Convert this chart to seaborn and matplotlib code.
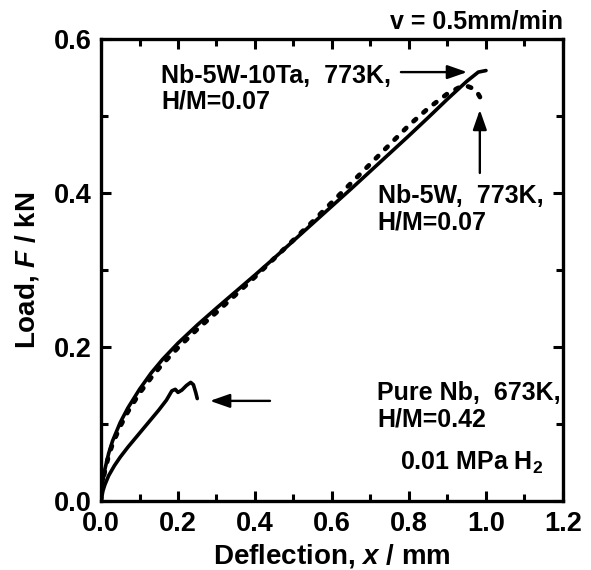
import matplotlib
matplotlib.use("Agg")
import matplotlib.pyplot as plt
import seaborn as sns
import pandas as pd
import numpy as np

# ---- data ----
ta_x = [0, 0.005, 0.01, 0.02, 0.03, 0.05, 0.07, 0.10, 0.13, 0.16, 0.20, 0.25, 0.30, 0.35,
        0.40, 0.45, 0.50, 0.55, 0.60, 0.65, 0.70, 0.75, 0.80, 0.85, 0.90, 0.95, 0.98, 1.00]
ta_y = [0, 0.026, 0.041, 0.062, 0.078, 0.102, 0.121, 0.145, 0.166, 0.184, 0.205, 0.2285,
        0.2505, 0.272, 0.2935, 0.3155, 0.338, 0.3605, 0.383, 0.4055, 0.4285, 0.4515,
        0.4745, 0.498, 0.522, 0.545, 0.557, 0.559]

w_x = [0, 0.005, 0.01, 0.02, 0.03, 0.05, 0.07, 0.10, 0.13, 0.16, 0.20, 0.25, 0.30, 0.35,
       0.40, 0.45, 0.50, 0.55, 0.60, 0.65, 0.70, 0.75, 0.80, 0.85, 0.90, 0.93, 0.95,
       0.965, 0.977, 0.985]
w_y = [0, 0.025, 0.039, 0.059, 0.074, 0.097, 0.116, 0.140, 0.160, 0.178, 0.199, 0.223,
       0.245, 0.268, 0.291, 0.315, 0.339, 0.363, 0.388, 0.413, 0.438, 0.463, 0.488,
       0.510, 0.529, 0.537, 0.539, 0.536, 0.531, 0.524]

nb_x = [0, 0.005, 0.01, 0.02, 0.035, 0.05, 0.07, 0.09, 0.11, 0.13, 0.15, 0.17, 0.184,
        0.193, 0.200, 0.210, 0.222, 0.233, 0.240, 0.246, 0.250]
nb_y = [0, 0.013, 0.021, 0.033, 0.046, 0.057, 0.070, 0.082, 0.094, 0.106, 0.118, 0.131,
        0.143, 0.145, 0.141, 0.144, 0.150, 0.154, 0.151, 0.141, 0.133]

labels_ta = ["Nb-5W-10Ta,  773K,", "H/M=0.07"]
labels_w = ["Nb-5W,  773K,", "H/M=0.07"]
labels_nb = ["Pure Nb,  673K,", "H/M=0.42"]

x_ticks = [0.0, 0.2, 0.4, 0.6, 0.8, 1.0, 1.2]
y_ticks = [0.0, 0.2, 0.4, 0.6]

# ---- style ----
sns.set_style("ticks")
plt.rcParams['font.family'] = ['Liberation Sans', 'DejaVu Sans']
plt.rcParams['font.weight'] = 'bold'
plt.rcParams['text.color'] = 'black'
plt.rcParams['axes.labelcolor'] = 'black'
plt.rcParams['xtick.color'] = 'black'
plt.rcParams['ytick.color'] = 'black'
plt.rcParams['axes.edgecolor'] = 'black'
plt.rcParams['mathtext.fontset'] = 'custom'
plt.rcParams['mathtext.rm'] = 'Liberation Sans:bold'
plt.rcParams['mathtext.it'] = 'Liberation Sans:bold:italic'
plt.rcParams['mathtext.bf'] = 'Liberation Sans:bold'

fig = plt.figure(figsize=(5.91, 5.70), dpi=100)
ax = fig.add_axes([0.1709, 0.1211, 0.9526 - 0.1709, 0.9316 - 0.1211])

df_ta = pd.DataFrame({"x": ta_x, "y": ta_y})
df_w = pd.DataFrame({"x": w_x, "y": w_y})
df_nb = pd.DataFrame({"x": nb_x, "y": nb_y})

sns.lineplot(data=df_ta, x="x", y="y", ax=ax, sort=False, estimator=None,
             color="black", lw=2.6, solid_capstyle="round", solid_joinstyle="round")
sns.lineplot(data=df_w, x="x", y="y", ax=ax, sort=False, estimator=None,
             color="black", lw=3.4, linestyle=(0, (0.7, 2.1)), dash_capstyle="round")
sns.lineplot(data=df_nb, x="x", y="y", ax=ax, sort=False, estimator=None,
             color="black", lw=2.6, solid_capstyle="round", solid_joinstyle="round")

ax.set_xlim(0, 1.2)
ax.set_ylim(0, 0.6)
ax.set_xticks(x_ticks)
ax.set_yticks(y_ticks)
ax.set_xticks(np.arange(0.1, 1.2, 0.2), minor=True)
ax.set_yticks(np.arange(0.1, 0.6, 0.2), minor=True)
ax.set_xticklabels([f"{v:.1f}" for v in x_ticks])
ax.set_yticklabels([f"{v:.1f}" for v in y_ticks])

for s in ax.spines.values():
    s.set_linewidth(2.4)
    s.set_visible(True)
    s.set_color('black')
ax.tick_params(which='both', direction='in', top=True, right=True, width=2.2,
               labelsize=19.5, colors='black')
ax.tick_params(which='major', length=7.5, pad=7)
ax.tick_params(which='minor', length=5)

ax.set_xlabel("Deflection, $\\mathit{x}$ / mm", fontsize=20, fontweight='bold', labelpad=4)
ax.set_ylabel("Load, $\\mathit{F}$ / kN", fontsize=20, fontweight='bold', labelpad=9)

tkw = dict(fontsize=18, fontweight='bold', color='black', linespacing=1.1)
ax.text(0.156, 0.535, "\n".join(labels_ta), ha='left', va='center', **tkw)
ax.text(0.719, 0.379, "\n".join(labels_w), ha='left', va='center', **tkw)
ax.text(0.717, 0.123, "\n".join(labels_nb), ha='left', va='center', **tkw)
ax.text(1.148, 0.049, "0.01 MPa H$_\\mathregular{2}$", ha='right', va='center', **tkw)
ax.text(1.0, 1.012, "v = 0.5mm/min", transform=ax.transAxes, ha='right', va='bottom', **tkw)

akw = dict(arrowstyle='-|>,head_length=1.2,head_width=0.42', color='black', lw=1.7,
           shrinkA=0, shrinkB=0)
ax.annotate("", xy=(0.951, 0.557), xytext=(0.779, 0.557), arrowprops=akw)
ax.annotate("", xy=(0.984, 0.508), xytext=(0.984, 0.426), arrowprops=akw)
ax.annotate("", xy=(0.283, 0.130), xytext=(0.439, 0.130), arrowprops=akw)

fig.savefig("out.png", dpi=100)
